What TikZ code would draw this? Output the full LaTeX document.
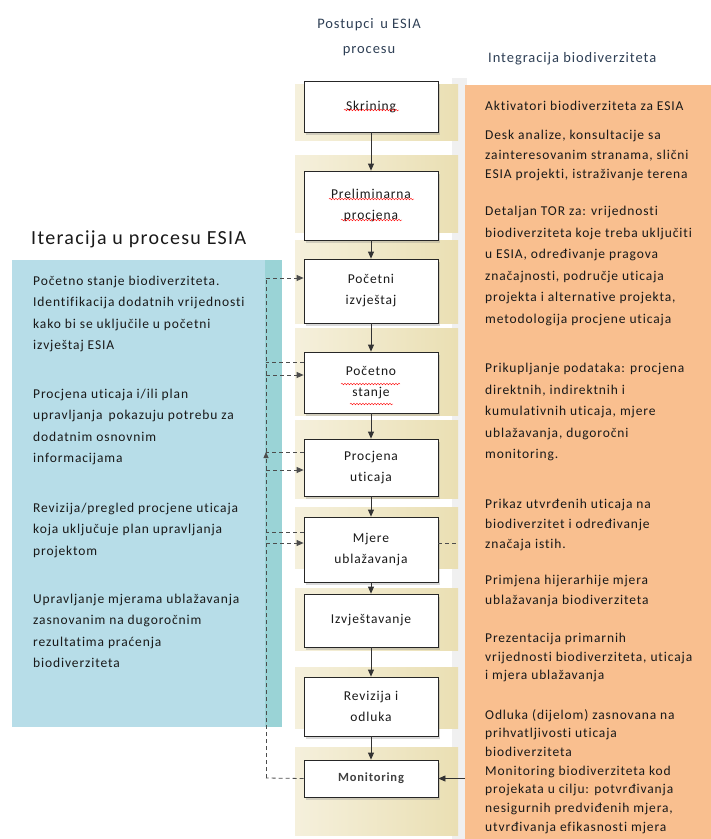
\documentclass[tikz,border=0pt]{standalone}
\usepackage{fontspec}
\setmainfont{Carlito}[LetterSpace=6.5, Ligatures=CommonOff]
\usetikzlibrary{arrows.meta,decorations.pathmorphing,shadows}

\definecolor{orangebg}{HTML}{F9BF8F}
\definecolor{bluebg}{HTML}{B7DDE8}
\definecolor{tealbg}{HTML}{9AD3D6}
\definecolor{beigeL}{HTML}{F5F0DC}
\definecolor{beigeR}{HTML}{EADFB3}
\definecolor{graycol}{HTML}{F0F0F0}
\definecolor{titleblue}{HTML}{2E3F55}

\tikzset{
  stepbox/.style={draw=black!85, thick, fill=white, minimum width=134pt, align=center,
    text=black!90, font=\fontsize{13.5}{21}\selectfont,
    drop shadow={opacity=0.3, shadow xshift=2pt, shadow yshift=-2.5pt}},
  strip/.style={left color=beigeL, right color=beigeR, draw=none},
  panel/.style={draw=none, inner sep=0pt, anchor=north west},
  iter/.style={dash pattern=on 4pt off 3pt, thick, black!70},
  flow/.style={-{Triangle[length=7pt,width=6pt]}, thick, black!80},
  note/.style={anchor=north west, inner sep=0pt, align=left, text=black!90},
  squig/.style={red, decorate, decoration={snake, amplitude=0.8pt, segment length=3pt}},
}

\begin{document}
\begin{tikzpicture}[x=1pt, y=-1pt]
\useasboundingbox (0,0) rectangle (711,839);

% backgrounds
\fill[graycol] (452,78) rectangle (467,839);
\node[panel, fill=orangebg, minimum width=246pt, minimum height=754pt] (integ) at (465,85) {};
\node[panel, fill=bluebg, minimum width=270pt, minimum height=467pt] (iterpanel) at (12,260) {};
\fill[tealbg] (265,260) rectangle (282,727);

% beige strips behind the steps
\fill[strip] (295,84) rectangle (458,140);
\fill[strip] (295,155) rectangle (458,232);
\fill[strip] (295,240) rectangle (458,323);
\fill[strip] (295,328) rectangle (458,415);
\fill[strip] (295,420) rectangle (458,498);
\fill[strip] (295,507) rectangle (458,568);
\fill[strip] (295,588) rectangle (458,650);
\fill[strip] (295,667) rectangle (458,728);
\fill[strip] (295,747) rectangle (458,835);

% titles
\node[align=center, text=titleblue, font=\fontsize{14.5}{25}\selectfont] (postupci) at (369,37) {Postupci \,u ESIA\\procesu};
\node[anchor=west, text=titleblue, font=\fontsize{14.5}{16}\selectfont, inner sep=0pt] (integtitle) at (488,59) {Integracija biodiverziteta};
\node[anchor=west, text=black!90, font=\fontsize{20}{24}\selectfont, inner sep=0pt] (itertitle) at (31,239) {Iteracija u procesu ESIA};

% ESIA steps
\node[stepbox, minimum height=51pt] (skr) at (371,106.5) {Skrining};
\node[stepbox, minimum height=69pt] (pre) at (371,205.5) {Preliminarna\\procjena};
\node[stepbox, minimum height=64pt] (piz) at (371,291) {Početni\\izvještaj};
\node[stepbox, minimum height=61pt] (pst) at (371,382.5) {Početno\\stanje};
\node[stepbox, minimum height=57pt] (puti) at (371,467.5) {Procjena\\uticaja};
\node[stepbox, minimum height=65pt] (mje) at (371,549.5) {Mjere\\ublažavanja};
\node[stepbox, minimum height=53pt] (izv) at (371,620.5) {Izvještavanje};
\node[stepbox, minimum height=59pt] (rev) at (371,706.5) {Revizija i\\odluka};
\node[stepbox, minimum height=37pt, font=\bfseries\fontsize{12.5}{15}\selectfont, text=black!75] (mon) at (371,778.5) {Monitoring};

% spell-check marks
\draw[squig] (344,110) -- (399,110);
\draw[squig] (329,199) -- (414,199);
\draw[squig] (341,220) -- (402,220);
\draw[squig] (341,384) -- (400,384);
\draw[squig] (350,404) -- (393,404);

% main flow
\foreach \a/\b in {skr/pre, pre/piz, piz/pst, pst/puti, puti/mje, mje/izv, izv/rev, rev/mon}
  \draw[flow] (\a) -- (\b);

% iteration loop
\coordinate (top) at (266,278);
\coordinate (back) at (266,452);
\coordinate (bottom) at (266,778);
\draw[iter] (back) -- (top);
\draw[iter, -{Triangle[length=6pt,width=5pt]}] (bottom) -- (back);
\draw[iter] (mon.west) -- (bottom);
\draw[iter, -{Triangle[length=7pt,width=6pt]}] (top) -- (top -| piz.west);
\draw[iter] (pst.west |- 0,362) -- (266,362);
\draw[iter, -{Triangle[length=7pt,width=6pt]}] (266,375) -- (pst.west |- 0,375);
\draw[iter] (puti.west |- back) -- (back);
\draw[iter, -{Triangle[length=7pt,width=6pt]}] (266,470) -- (puti.west |- 0,470);
\draw[iter] (mje.west |- 0,532) -- (266,532);
\draw[iter, -{Triangle[length=7pt,width=6pt]}] (266,543) -- (mje.west |- 0,543);
\draw[iter] (mje.east |- 0,543) -- (458,543);
\draw[flow] (integ.west |- mon) -- (mon.east);

% iteration notes
\begin{scope}[every node/.style={note, font=\fontsize{13.5}{21.5}\selectfont}]
\node (it1) at (33,275.5) {Početno stanje biodiverziteta.\\Identifikacija dodatnih vrijednosti\\kako bi se uključile u početni\\izvještaj ESIA};
\node (it2) at (33,388.5) {Procjena uticaja i/ili plan\\upravljanja \,pokazuju potrebu za\\dodatnim osnovnim\\informacijama};
\node (it3) at (33,502.5) {Revizija/pregled procjene uticaja\\koja uključuje plan upravljanja\\projektom};
\node (it4) at (33,593.5) {Upravljanje mjerama ublažavanja\\zasnovanim na dugoročnim\\rezultatima praćenja\\biodiverziteta};
\end{scope}

% biodiversity integration notes
\begin{scope}[every node/.style={note, font=\fontsize{13.5}{19}\selectfont}]
\node (bd1) at (485,101) {Aktivatori biodiverziteta za ESIA};
\node[font=\fontsize{13.5}{19.5}\selectfont] (bd2) at (485,130) {Desk analize, konsultacije sa\\zainteresovanim stranama, slični\\ESIA projekti, istraživanje terena};
\node[font=\fontsize{13.5}{21.6}\selectfont] (bd3) at (485,206) {Detaljan TOR za: vrijednosti\\biodiverziteta koje treba uključiti\\u ESIA, određivanje pragova\\značajnosti, područje uticaja\\projekta i alternative projekta,\\metodologija procjene uticaja};
\node[font=\fontsize{13.5}{21.6}\selectfont] (bd4) at (485,363) {Prikupljanje podataka: procjena\\direktnih, indirektnih i\\kumulativnih uticaja, mjere\\ublažavanja, dugoročni\\monitoring.};
\node[font=\fontsize{13.5}{19.8}\selectfont] (bd5) at (485,499) {Prikaz utvrđenih uticaja na\\biodiverzitet i određivanje\\značaja istih.};
\node[font=\fontsize{13.5}{19.5}\selectfont] (bd6) at (485,575) {Primjena hijerarhije mjera\\ublažavanja biodiverziteta};
\node[font=\fontsize{13.5}{18.7}\selectfont] (bd7) at (485,633) {Prezentacija primarnih\\vrijednosti biodiverziteta, uticaja\\i mjera ublažavanja};
\node[font=\fontsize{13.5}{18.7}\selectfont] (bd8) at (485,709) {Odluka (dijelom) zasnovana na\\prihvatljivosti uticaja\\biodiverziteta\\Monitoring biodiverziteta kod\\projekata u cilju: potvrđivanja\\nesigurnih predviđenih mjera,\\utvrđivanja efikasnosti mjera};
\end{scope}
\end{tikzpicture}
\end{document}
